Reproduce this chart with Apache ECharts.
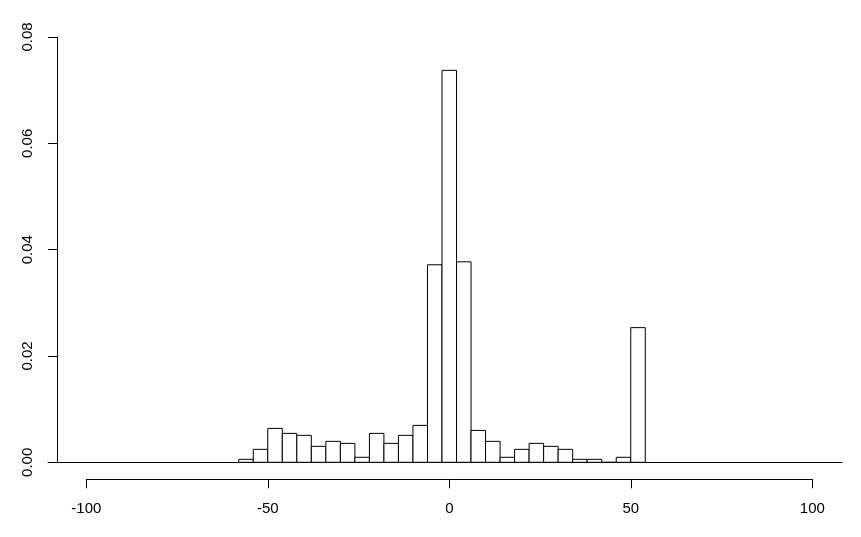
<!DOCTYPE html>
<html>
<head>
<meta charset="utf-8">
<script src="https://cdn.jsdelivr.net/npm/echarts@6/dist/echarts.min.js"></script>
<style>
html,body{margin:0;padding:0;background:#fff;}
#chart{width:861px;height:537px;}
</style>
</head>
<body>
<div id="chart"></div>
<script>
// Histogram bin edges (width 4)
var binEdges = [-58,-54,-50,-46,-42,-38,-34,-30,-26,-22,-18,-14,-10,-6,-2,2,6,10,14,18,22,26,30,34,38,42,46,50,54];
// Density per bin
var densities = [0.00056,0.00244,0.00638,0.00544,0.00507,0.0030,0.00394,0.00356,0.00094,0.00544,0.00356,0.00507,0.00694,0.03715,0.07373,0.03771,0.0060,0.00394,0.00094,0.00244,0.00356,0.0030,0.00244,0.00056,0.00056,0,0.00094,0.02533];
// Axis ticks
var xTicks = [-100,-50,0,50,100];
var yTicks = [0,0.02,0.04,0.06,0.08];

var barData = [];
for (var i = 0; i < densities.length; i++) {
  barData.push([binEdges[i], binEdges[i+1], densities[i]]);
}

var font = '"Liberation Sans", Arial, sans-serif';
var chart = echarts.init(document.getElementById('chart'), null, {renderer:'canvas'});
chart.setOption({
  animation: false,
  backgroundColor: '#ffffff',
  grid: [
    {left: 48, right: 19, top: 37, bottom: 74.7, containLabel: false},
    {left: 86.3, right: 48.7, top: 478.3, height: 1, containLabel: false}
  ],
  xAxis: [
    {gridIndex: 0, type: 'value', min: -110.55, max: 108.2,
     axisLine: {show: true, onZero: false, lineStyle: {color: '#000', width: 1}},
     axisTick: {show: false}, axisLabel: {show: false}, splitLine: {show: false}},
    {gridIndex: 1, type: 'value', position: 'bottom',
     min: xTicks[0], max: xTicks[xTicks.length-1], interval: xTicks[1]-xTicks[0],
     axisLine: {show: true, onZero: false, lineStyle: {color: '#000', width: 1}},
     axisTick: {show: true, length: 9, lineStyle: {color: '#000', width: 1}},
     axisLabel: {show: true, color: '#000', fontFamily: font, fontSize: 15, margin: 22},
     splitLine: {show: false}}
  ],
  yAxis: [
    {gridIndex: 0, type: 'value', position: 'left', offset: -9,
     min: yTicks[0], max: yTicks[yTicks.length-1], interval: yTicks[1]-yTicks[0],
     axisLine: {show: true, onZero: false, lineStyle: {color: '#000', width: 1}},
     axisTick: {show: true, length: 9, lineStyle: {color: '#000', width: 1}},
     axisLabel: {show: true, rotate: 90, color: '#000', fontFamily: font, fontSize: 15, margin: 22,
                 formatter: function(v){ return v.toFixed(2); }},
     splitLine: {show: false}},
    {gridIndex: 1, type: 'value', min: 0, max: 1, show: false}
  ],
  series: [{
    type: 'custom',
    xAxisIndex: 0, yAxisIndex: 0,
    data: barData,
    renderItem: function(params, api) {
      var p0 = api.coord([api.value(0), api.value(2)]);
      var p1 = api.coord([api.value(1), 0]);
      return {
        type: 'rect',
        shape: {x: p0[0], y: p0[1], width: p1[0]-p0[0], height: p1[1]-p0[1]},
        style: {fill: '#ffffff', stroke: '#000000', lineWidth: 1}
      };
    },
    encode: {x: [0,1], y: 2}
  }]
});
</script>
</body>
</html>
